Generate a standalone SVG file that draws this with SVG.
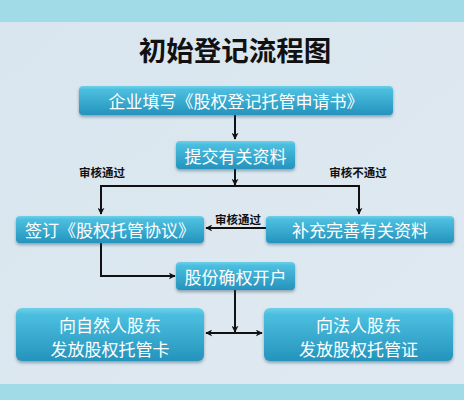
<svg xmlns="http://www.w3.org/2000/svg" width="464" height="400" viewBox="0 0 464 400">
<defs>
<linearGradient id="bg" x1="0" y1="0" x2="1" y2="1">
<stop offset="0" stop-color="#d9e6ef"/><stop offset="1" stop-color="#dfe9f1"/>
</linearGradient>
<linearGradient id="box" x1="0" y1="0" x2="0" y2="1">
<stop offset="0" stop-color="#6fd0ea"/><stop offset="0.12" stop-color="#4cbfdf"/><stop offset="1" stop-color="#2593bd"/>
</linearGradient>
<filter id="sh" x="-10%" y="-20%" width="120%" height="160%">
<feDropShadow dx="0" dy="2" stdDeviation="1.5" flood-color="#2a4a60" flood-opacity="0.45"/>
</filter>
<marker id="ah" viewBox="0 0 10 10" refX="9" refY="5" markerWidth="7" markerHeight="7" markerUnits="userSpaceOnUse" orient="auto-start-reverse">
<path d="M0,0 L10,5 L0,10 L3,5 Z" fill="#111"/>
</marker>
<style>
.b{fill:url(#box);filter:url(#sh)}
.t{fill:#fff;font-family:"Noto Sans CJK SC","Noto Sans",sans-serif;font-size:17px;text-anchor:middle;dominant-baseline:central}
.l{fill:#111;font-family:"Noto Sans CJK SC","Noto Sans",sans-serif;font-size:11.5px;font-weight:bold;text-anchor:middle;dominant-baseline:central}
.c{fill:none;stroke:#111;stroke-width:2}
</style>
</defs>
<rect width="464" height="400" fill="url(#bg)"/>
<rect width="464" height="22" fill="#a2dbe8"/>
<rect y="384" width="464" height="16" fill="#a2dbe8"/>
<text x="235" y="48.5" font-family="Noto Sans CJK SC,sans-serif" font-size="27.5" font-weight="bold" text-anchor="middle" dominant-baseline="central" fill="#111">初始登记流程图</text>

<g id="connectors">
<line class="c" x1="235" y1="115" x2="235" y2="139" marker-end="url(#ah)"/>
<line class="c" x1="235" y1="169" x2="235" y2="185" marker-end="url(#ah)"/>
<polyline class="c" points="101,214 101,186 359,186 359,214" marker-start="url(#ah)" marker-end="url(#ah)"/>
<line class="c" x1="266" y1="228" x2="206" y2="228" marker-end="url(#ah)"/>
<polyline class="c" points="101,243 101,276 175,276" marker-end="url(#ah)"/>
<line class="c" x1="235" y1="290" x2="235" y2="332" marker-end="url(#ah)"/>
<line class="c" x1="206" y1="333" x2="262" y2="333" marker-start="url(#ah)" marker-end="url(#ah)"/>
<text class="l" x="102" y="172">审核通过</text>
<text class="l" x="358" y="172">审核不通过</text>
<text class="l" x="238" y="219">审核通过</text>
</g>

<g id="n1"><rect class="b" x="79" y="86" width="314" height="29" rx="4"/><text class="t" x="236" y="100.5">企业填写《股权登记托管申请书》</text></g>
<g id="n2"><rect class="b" x="176" y="141" width="119" height="28" rx="4"/><text class="t" x="235.5" y="155" font-size="18">提交有关资料</text></g>
<g id="n3"><rect class="b" x="16" y="216" width="188" height="27" rx="4"/><text class="t" x="110" y="229.5">签订《股权托管协议》</text></g>
<g id="n4"><rect class="b" x="266" y="216" width="188" height="27" rx="4"/><text class="t" x="360" y="229.5">补充完善有关资料</text></g>
<g id="n5"><rect class="b" x="176" y="262" width="119" height="28" rx="4"/><text class="t" x="235.5" y="276">股份确权开户</text></g>
<g id="n6"><rect class="b" x="16" y="308" width="188" height="53" rx="6"/><text class="t" x="110" y="324">向自然人股东</text><text class="t" x="110" y="348">发放股权托管卡</text></g>
<g id="n7"><rect class="b" x="264" y="308" width="189" height="53" rx="6"/><text class="t" x="358.5" y="324">向法人股东</text><text class="t" x="358.5" y="348">发放股权托管证</text></g>
</svg>
